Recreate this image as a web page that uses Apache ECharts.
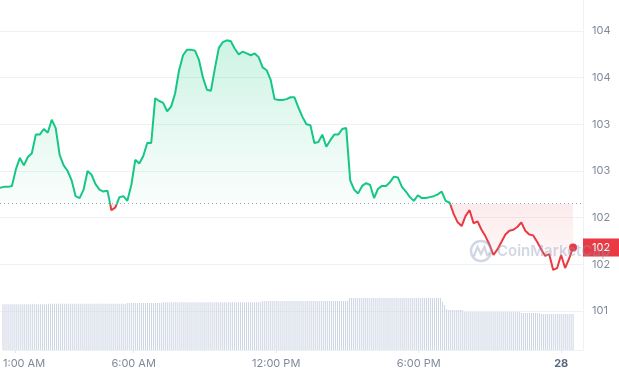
<!DOCTYPE html>
<html>
<head>
<meta charset="utf-8">
<script src="https://cdn.jsdelivr.net/npm/echarts@6/dist/echarts.min.js"></script>
<style>
  html, body { margin: 0; padding: 0; background: #fff; }
  #chart { width: 619px; height: 376px; }
</style>
</head>
<body>
<div id="chart"></div>
<script>
var green = '#16c784';
var red = '#ea3943';
var axisGrey = '#808a9d';
var lineGrey = '#eff2f5';

// price every 10 minutes, 27th 00:30 -> 28th 00:30
var prices = [
    102.32, 102.33, 102.33, 102.34, 102.52, 102.64, 102.56, 102.65, 102.69, 102.89, 102.89, 102.95,
    102.91, 103.05, 102.96, 102.67, 102.56, 102.50, 102.40, 102.23, 102.21, 102.30, 102.50, 102.46,
    102.36, 102.30, 102.28, 102.29, 102.08, 102.11, 102.22, 102.23, 102.18, 102.35, 102.62, 102.58,
    102.66, 102.80, 102.80, 103.28, 103.25, 103.23, 103.14, 103.19, 103.33, 103.58, 103.74, 103.80,
    103.80, 103.79, 103.69, 103.50, 103.37, 103.36, 103.60, 103.82, 103.88, 103.90, 103.89, 103.81,
    103.75, 103.78, 103.76, 103.74, 103.76, 103.72, 103.61, 103.58, 103.48, 103.27, 103.26, 103.26,
    103.27, 103.29, 103.29, 103.18, 103.08, 103.00, 102.99, 102.80, 102.81, 102.89, 102.76, 102.83,
    102.89, 102.89, 102.95, 102.96, 102.40, 102.30, 102.26, 102.34, 102.37, 102.35, 102.21, 102.31,
    102.34, 102.34, 102.38, 102.44, 102.43, 102.33, 102.28, 102.22, 102.18, 102.24, 102.21, 102.21,
    102.22, 102.23, 102.25, 102.28, 102.18, 102.16, 102.04, 101.95, 101.91, 102.02, 102.08, 101.94,
    101.96, 101.87, 101.80, 101.71, 101.60, 101.66, 101.74, 101.82, 101.86, 101.87, 101.90, 101.95,
    101.86, 101.82, 101.81, 101.74, 101.66, 101.59, 101.61, 101.44, 101.46, 101.60, 101.46, 101.56,
    101.68
];
var openPrice = 102.146;

// 24h volume, one bar every 5 minutes
var volumes = [
    45.7, 45.7, 45.7, 45.7, 45.7, 45.7, 45.7, 45.7, 45.7, 45.7, 45.7, 45.7,
    45.7, 45.7, 45.7, 46.3, 45.7, 45.7, 45.7, 45.7, 45.7, 45.7, 45.7,
    46.3, 46.3, 46.3, 46.3, 46.3, 46.3, 46.3, 46.3, 46.3, 46.3, 46.3, 46.3, 46.3, 46.3, 46.3, 46.3, 46.3, 46.3, 46.3, 46.3,
    46.3, 46.3, 46.3, 46.3, 46.3, 46.3, 46.3, 46.3, 46.3, 46.3, 46.3, 46.3, 46.3, 46.3, 46.3, 46.3, 46.3, 46.3, 46.3, 46.3,
    47.0, 47.0, 47.0, 47.0, 47.0, 47.0, 47.0, 47.0, 47.0, 47.0, 47.0, 47.0, 47.0, 47.0, 47.0, 47.0, 47.0, 47.0,
    47.7, 47.7, 47.7, 47.7, 47.7, 47.7, 47.7, 47.7, 47.7, 47.7, 47.7, 47.7, 47.7, 47.7, 47.7, 47.7, 47.7, 47.7, 47.7, 47.7,
    47.7, 47.7, 47.7, 47.7, 47.7, 47.7, 47.7, 47.7, 47.7, 47.7, 47.7, 47.7, 47.7, 47.7, 47.7, 47.7, 47.7, 47.7, 47.7, 47.7,
    47.7, 47.7, 47.7, 47.7, 47.7, 47.7, 47.7, 47.7, 47.7, 47.7,
    49.0, 49.0, 49.0, 49.0, 49.0, 49.0, 49.0, 49.0, 49.0, 49.0, 49.0, 49.0, 49.0, 49.0, 49.0, 49.0, 49.0, 49.0, 49.0, 49.0,
    49.0, 49.0, 49.0, 49.0, 49.0, 49.0, 49.0, 49.0, 49.0, 49.0, 49.0, 49.0, 49.0, 49.0, 49.0, 49.0, 49.0, 49.0, 49.0, 49.0,
    49.0, 49.0, 49.0, 49.0,
    52.0, 52.0, 52.0, 52.0, 52.0, 52.0, 52.0, 52.0, 52.0, 52.0, 52.0, 52.0, 52.0, 52.0, 52.0, 52.0, 52.0, 52.0, 52.0, 52.0,
    52.0, 52.0, 52.0, 52.0, 52.0, 52.0, 52.0, 52.0, 52.0, 52.0, 52.0, 52.0, 52.0, 52.0, 52.0, 52.0, 52.0, 52.0, 52.0, 52.0,
    52.0, 52.0, 52.0, 52.0, 52.0, 52.0, 52.0,
    48.3, 45.0, 41.0, 40.0, 40.0, 40.0, 40.0, 40.0, 40.0, 40.0, 40.0,
    38.3, 38.3, 38.3, 38.3, 38.3, 38.3, 38.3, 38.3, 38.3, 38.3, 38.3, 38.3, 38.3, 38.3, 38.3, 38.3, 38.3, 38.3, 38.3, 38.3,
    38.3, 38.3, 38.3, 38.3, 38.3, 38.3, 38.3, 38.3, 38.3,
    37.0, 37.0, 37.0, 37.0, 37.0, 37.0, 37.0, 37.0, 37.0, 37.0,
    36.0, 36.0, 36.0, 36.0, 36.0, 36.0, 36.0, 36.0, 36.0, 36.0, 36.0, 36.0, 36.0, 36.0, 36.0, 36.0, 36.0
];

// x axis: 5 minute slots from 27th 00:30, running a little past the last bar
var slotCount = 294;
var tickSlots = [6, 66, 138, 210, 282];
var labelSlots = [0, 66, 138, 210, 282]; // first label is pushed in to the left edge
var tickLabels = ['1:00 AM', '6:00 AM', '12:00 PM', '6:00 PM', '28'];

function pad(n) {
    return n < 10 ? '0' + n : '' + n;
}

var times = [];
for (var s = 0; s < slotCount; s++) {
    var m = 30 + s * 5;
    var day = m >= 1440 ? 28 : 27;
    var mm = m % 1440;
    times.push(day + ' ' + pad(Math.floor(mm / 60)) + ':' + pad(mm % 60));
}

var priceData = prices.map(function(v, i) {
    return [i * 2, v];
});
var lastIdx = (prices.length - 1) * 2;
var lastPrice = prices[prices.length - 1];

// where the open price falls inside the line's own box (top = max, bottom = min)
var maxP = Math.max.apply(null, prices);
var minP = Math.min.apply(null, prices);
var cut = (maxP - openPrice) / (maxP - minP);

function split(topA, botA, topB, botB) {
    return {
        type: 'linear', x: 0, y: 0, x2: 0, y2: 1,
        colorStops: [
            { offset: 0, color: topA },
            { offset: cut, color: botA },
            { offset: cut, color: topB },
            { offset: 1, color: botB }
        ]
    };
}

var watermark = 'rgba(140,155,185,0.4)';

var chart = echarts.init(document.getElementById('chart'));

var option = {
    animation: false,
    grid: [
        { left: 0, right: 36, top: 31, bottom: 65 },
        { left: 0, right: 36, top: 0, bottom: 26 }
    ],
    xAxis: [{
        gridIndex: 0,
        type: 'category',
        data: times,
        boundaryGap: false,
        show: false
    }, {
        gridIndex: 1,
        type: 'category',
        data: times,
        boundaryGap: false,
        axisLine: { lineStyle: { color: lineGrey } },
        axisTick: {
            length: 3,
            lineStyle: { color: '#e3e7ee' },
            interval: function(i) {
                return tickSlots.indexOf(i) >= 0;
            }
        },
        axisLabel: {
            margin: 8,
            color: axisGrey,
            fontSize: 11,
            fontFamily: 'Inter',
            alignMinLabel: 'left',
            interval: function(i) {
                return labelSlots.indexOf(i) >= 0;
            },
            formatter: function(v) {
                var k = labelSlots.indexOf(times.indexOf(v));
                if (k < 0) return '';
                if (k === tickLabels.length - 1) return '{day|' + tickLabels[k] + '}';
                return tickLabels[k];
            },
            rich: {
                day: { fontWeight: 'bold', color: '#58667e', fontSize: 11, fontFamily: 'Inter' }
            }
        },
        splitLine: { show: false }
    }],
    yAxis: [{
        gridIndex: 0,
        type: 'value',
        position: 'right',
        min: 101,
        max: 104,
        interval: 0.5,
        axisLine: { show: false },
        axisTick: { show: false },
        axisLabel: {
            margin: 9,
            color: axisGrey,
            fontSize: 11,
            fontFamily: 'Inter',
            formatter: function(v) {
                return '' + Math.round(v);
            }
        },
        splitLine: { lineStyle: { color: lineGrey } }
    }, {
        gridIndex: 1,
        type: 'value',
        position: 'right',
        min: 0,
        max: 350,
        axisLine: { show: true, lineStyle: { color: lineGrey } },
        axisTick: { show: false },
        axisLabel: { show: false },
        splitLine: { show: false }
    }],
    series: [{
        name: 'Volume',
        type: 'bar',
        xAxisIndex: 1,
        yAxisIndex: 1,
        data: volumes,
        barWidth: 1,
        itemStyle: { color: '#cdd4e3' },
        silent: true
    }, {
        name: 'Price',
        type: 'line',
        xAxisIndex: 0,
        yAxisIndex: 0,
        data: priceData,
        showSymbol: false,
        lineStyle: { width: 2, color: split(green, green, red, red) },
        areaStyle: {
            origin: openPrice,
            color: split('rgba(22,199,132,0.30)', 'rgba(22,199,132,0.03)',
                         'rgba(234,57,67,0.14)', 'rgba(234,57,67,0.04)')
        },
        markLine: {
            silent: true,
            symbol: 'none',
            data: [{
                yAxis: openPrice,
                lineStyle: { type: [1, 3], color: '#a3acbe', width: 1 },
                label: { show: false }
            }, {
                yAxis: lastPrice,
                lineStyle: { type: 'solid', color: 'rgba(0,0,0,0)', width: 1 },
                label: {
                    show: true,
                    position: 'end',
                    distance: 0,
                    formatter: '' + Math.round(lastPrice),
                    backgroundColor: red,
                    color: '#fff',
                    padding: [4, 9, 3, 9],
                    fontSize: 11,
                    fontFamily: 'Inter'
                }
            }]
        },
        markPoint: {
            silent: true,
            symbol: 'circle',
            symbolSize: 8,
            itemStyle: { color: red },
            label: { show: false },
            data: [{ coord: [lastIdx, lastPrice] }]
        }
    }],
    // watermark, sits above everything like the original
    graphic: [{
        type: 'circle',
        zlevel: 1,
        shape: { cx: 481, cy: 251, r: 10 },
        style: { fill: 'none', stroke: watermark, lineWidth: 2.5 },
        silent: true
    }, {
        type: 'polyline',
        zlevel: 1,
        shape: { points: [[474, 256], [477.5, 247], [481, 254], [484.5, 247], [487, 255], [490, 253]] },
        style: { fill: 'none', stroke: watermark, lineWidth: 2.2 },
        silent: true
    }, {
        type: 'text',
        zlevel: 1,
        x: 497,
        y: 251,
        style: {
            text: 'CoinMarketCap',
            fill: watermark,
            fontSize: 15,
            fontWeight: 600,
            fontFamily: 'Inter',
            verticalAlign: 'middle'
        },
        silent: true
    }]
};

chart.setOption(option);
</script>
</body>
</html>
